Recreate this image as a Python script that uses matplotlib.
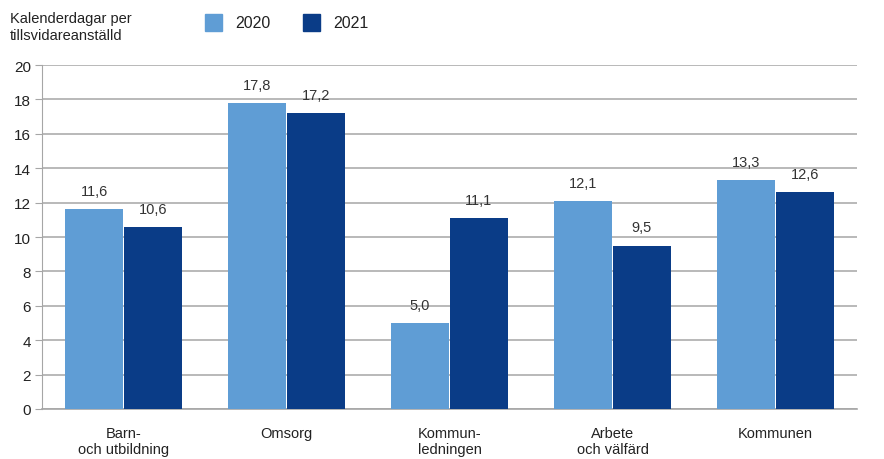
import matplotlib
matplotlib.use("Agg")
import matplotlib.pyplot as plt
import numpy as np

categories = ["Barn-\noch utbildning", "Omsorg", "Kommun-\nledningen", "Arbete\noch välfärd", "Kommunen"]
values_2020 = [11.6, 17.8, 5.0, 12.1, 13.3]
values_2021 = [10.6, 17.2, 11.1, 9.5, 12.6]
years = ["2020", "2021"]

c2020 = "#5f9dd5"
c2021 = "#0a3c87"

plt.rcParams["font.family"] = ["Liberation Sans", "DejaVu Sans"]

fig = plt.figure(figsize=(8.84, 4.6), dpi=100)
ax = fig.add_axes([0.0475, 0.1087, 0.922, 0.7478])

x = np.arange(len(categories))
w = 0.355
b1 = ax.bar(x - w/2 - 0.003, values_2020, w, color=c2020, zorder=3)
b2 = ax.bar(x + w/2 + 0.003, values_2021, w, color=c2021, zorder=3)

for bars, vals in [(b1, values_2020), (b2, values_2021)]:
    for rect, v in zip(bars, vals):
        ax.annotate(f"{v:.1f}".replace(".", ","),
                    (rect.get_x() + rect.get_width()/2, v),
                    xytext=(0, 8), textcoords="offset points",
                    ha="center", va="bottom", fontsize=10.5, color="#333333")

ax.set_xlim(-0.5, len(categories) - 0.5)
ax.set_ylim(0, 20)
ax.set_yticks(range(0, 21, 2))
ax.yaxis.grid(True, color="#a6a6a6", linewidth=1.1, zorder=0)
ax.set_axisbelow(True)
ax.set_xticks(x)
ax.set_xticklabels(categories, fontsize=10.5, color="#222222", linespacing=1.25)
ax.tick_params(axis="x", length=0, pad=12)
ax.tick_params(axis="y", length=5, color="#a6a6a6", labelsize=11, labelcolor="#222222", pad=3)
for s in ["top", "right"]:
    ax.spines[s].set_visible(False)
ax.spines["left"].set_color("#a6a6a6")
ax.spines["bottom"].set_color("#a6a6a6")
ax.spines["bottom"].set_linewidth(1.2)

fig.text(0.011, 0.975, "Kalenderdagar per\ntillsvidareanställd", ha="left", va="top",
         fontsize=10.5, color="#222222", linespacing=1.35)

# legend
for xl, col, lab in [(0.232, c2020, years[0]), (0.343, c2021, years[1])]:
    fig.patches.append(plt.Rectangle((xl, 0.93), 0.0195, 0.038, transform=fig.transFigure,
                                     color=col, figure=fig))
    fig.text(xl + 0.034, 0.949, lab, ha="left", va="center", fontsize=11.5, color="#222222")

fig.savefig("out.png", dpi=100)
